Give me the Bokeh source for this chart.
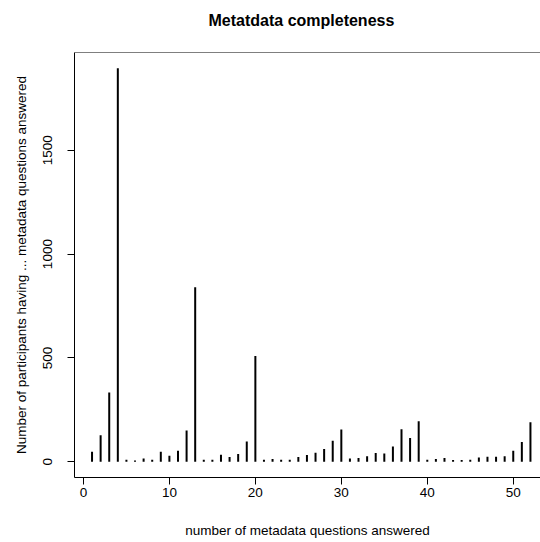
from bokeh.plotting import figure
from bokeh.models import Range1d, Span, FixedTicker, Title
from bokeh.embed import file_html
from bokeh.resources import INLINE

questions = list(range(1, 53))
participants = [48, 128, 333, 1895, 10, 6, 16, 10, 48, 29,
                53, 150, 840, 10, 10, 34, 23, 37, 98, 509,
                10, 13, 10, 10, 23, 32, 43, 61, 101, 155,
                16, 18, 27, 42, 40, 74, 156, 114, 195, 10,
                13, 18, 8, 8, 10, 21, 24, 24, 26, 53,
                95, 190]
x_ticks = [0, 10, 20, 30, 40, 50]
y_ticks = [0, 500, 1000, 1500]
title_text = "Metatdata completeness"

FONT = "Liberation Sans"

ymax = max(participants)
y0 = -0.04 * ymax
y1 = 1.04 * ymax
x0 = -1.04
x1 = 53.17

p = figure(width=540, height=542, output_backend="svg", toolbar_location=None,
           x_range=Range1d(x0, x1), y_range=Range1d(y0, y1),
           min_border_left=74, min_border_right=0, min_border_top=52, min_border_bottom=65,
           title=title_text)

p.segment(x0=questions, y0=[0] * len(questions), x1=questions, y1=participants,
          line_color="black", line_width=2, line_cap="butt")

# spacer between title and frame
p.add_layout(Title(text=" ", text_font=FONT, text_font_size="12px", standoff=8), "above")

p.title.align = "left"
p.title.offset = 134
p.title.text_font = FONT
p.title.text_font_size = "16px"
p.title.text_font_style = "bold"
p.title.text_color = "black"
p.title.standoff = 0

p.outline_line_color = None
p.grid.visible = False
p.background_fill_color = "white"
p.border_fill_color = "white"

p.add_layout(Span(location=y1, dimension="width", line_color="black", line_width=1))

for ax in (p.xaxis[0], p.yaxis[0]):
    ax.axis_line_color = "black"
    ax.major_tick_line_color = "black"
    ax.major_tick_out = 7
    ax.major_tick_in = 0
    ax.minor_tick_line_color = None
    ax.major_label_text_font = FONT
    ax.major_label_text_font_size = "13.5px"
    ax.major_label_text_color = "black"
    ax.axis_label_text_font = FONT
    ax.axis_label_text_font_size = "13.5px"
    ax.axis_label_text_font_style = "normal"
    ax.axis_label_text_color = "black"

p.xaxis.ticker = FixedTicker(ticks=x_ticks)
p.yaxis.ticker = FixedTicker(ticks=y_ticks)
p.xaxis.axis_label = "number of metadata questions answered"
p.yaxis.axis_label = "Number of participants having ... metadata questions answered"
p.xaxis.major_label_standoff = 3
p.xaxis.axis_label_standoff = 23
p.yaxis.major_label_orientation = "vertical"
p.yaxis.major_label_standoff = 15
p.yaxis.axis_label_standoff = 12

open("out.html", "w").write(file_html(p, INLINE))
